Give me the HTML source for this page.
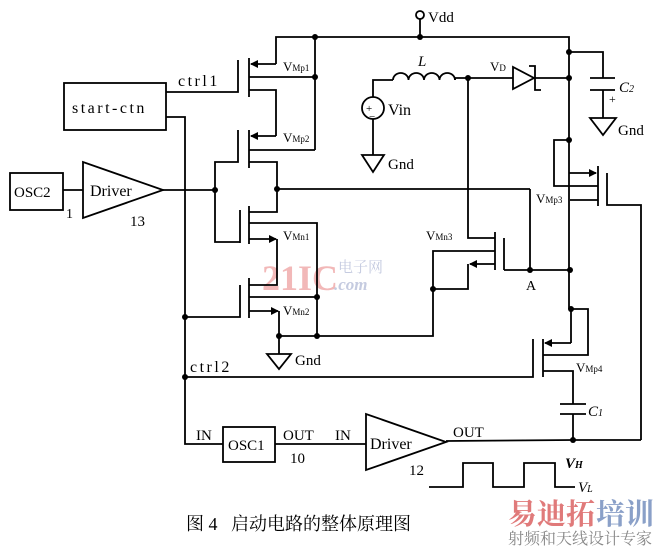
<!DOCTYPE html>
<html><head><meta charset="utf-8"><style>
html,body{margin:0;padding:0;background:#fff;}
svg{display:block;}
text{font-family:"Liberation Serif","Noto Serif CJK SC",serif;fill:#000;}
.m{font-family:"Liberation Serif",serif;letter-spacing:2.5px;}
</style></head><body>
<svg width="662" height="548" viewBox="0 0 662 548" xmlns="http://www.w3.org/2000/svg">
<defs>
<marker id="ar" markerWidth="8" markerHeight="8" refX="7" refY="4" orient="auto" markerUnits="userSpaceOnUse"><path d="M0,0 L8,4 L0,8 Z" fill="#000"/></marker>
</defs>
<text x="262" y="290" font-family="Liberation Sans,sans-serif" font-weight="bold" font-size="36" style="fill:#f2b8b8">21IC</text>
<text x="338" y="272" font-family="Noto Sans CJK SC,sans-serif" font-size="15" style="fill:#c5cbe0">电子网</text>
<text x="334" y="290" font-family="Liberation Sans,sans-serif" font-style="italic" font-weight="bold" font-size="17" style="fill:#c5cbe0">.com</text>

<g stroke="#000" stroke-width="1.8" fill="none">
<rect x="10" y="173" width="53" height="37"/>
<line x1="63" y1="190" x2="83" y2="190"/>
<polygon points="83,162 83,218 163,190"/>
<line x1="163" y1="190" x2="215" y2="190"/>
<rect x="64" y="83" width="102" height="47"/>
<polyline points="166,92 238,92 238,60"/>
<polyline points="166,117 185,117 185,444 223,444"/>
<circle cx="420" cy="15" r="4"/>
<line x1="420" y1="19" x2="420" y2="37"/>
<polyline points="276,64 276,37 569,37 569,140"/>
<line x1="249" y1="58" x2="249" y2="97"/>
<line x1="276" y1="64" x2="251" y2="64" marker-end="url(#ar)"/>
<line x1="249" y1="77" x2="315" y2="77"/>
<line x1="315" y1="37" x2="315" y2="150"/>
<polyline points="249,90 276,90 276,136"/>
<line x1="249" y1="130" x2="249" y2="168"/>
<line x1="276" y1="136" x2="251" y2="136" marker-end="url(#ar)"/>
<line x1="249" y1="150" x2="315" y2="150"/>
<polyline points="238,130 238,162 215,162 215,242 240,242"/>
<polyline points="249,162 277,162 277,212 249,212"/>
<line x1="277" y1="189" x2="530" y2="189"/>
<line x1="530" y1="189" x2="530" y2="270"/>
<line x1="249" y1="206" x2="249" y2="244"/>
<line x1="240" y1="210" x2="240" y2="243"/>
<polyline points="249,223 317,223 317,336"/>
<line x1="249" y1="239" x2="276" y2="239" marker-end="url(#ar)"/>
<polyline points="277,239 277,285 249,285"/>
<line x1="249" y1="278" x2="249" y2="318"/>
<polyline points="240,285 240,317 185,317"/>
<line x1="249" y1="297" x2="317" y2="297"/>
<line x1="249" y1="311" x2="278" y2="311" marker-end="url(#ar)"/>
<polyline points="279,311 279,354"/>
<polygon points="267,354 291,354 279,369"/>
<polyline points="279,336 433,336 433,251 495,251"/>
<line x1="495" y1="232" x2="495" y2="270"/>
<line x1="504" y1="238" x2="504" y2="270"/>
<polyline points="468,78 468,238 495,238"/>
<line x1="495" y1="264" x2="470" y2="264" marker-end="url(#ar)"/>
<polyline points="468,264 468,289 433,289"/>
<line x1="504" y1="270" x2="570" y2="270"/>
<circle cx="373" cy="108" r="11"/>
<polyline points="373,97 373,80 393,80"/>
<path d="M393,80 a7.75,7 0 0 1 15.5,0 a7.75,7 0 0 1 15.5,0 a7.75,7 0 0 1 15.5,0 a7.75,7 0 0 1 15.5,0"/>
<line x1="455" y1="80" x2="455" y2="78"/>
<line x1="455" y1="78" x2="513" y2="78"/>
<polygon points="513,67 513,89 534,78"/>
<polyline points="529,66 535,66 535,90 541,90"/>
<line x1="535" y1="78" x2="569" y2="78"/>
<line x1="373" y1="119" x2="373" y2="155"/>
<polygon points="362,155 384,155 373,172"/>
<polyline points="569,52 603,52 603,78"/>
<line x1="590" y1="78" x2="615" y2="78"/>
<line x1="590" y1="90" x2="615" y2="90"/>
<line x1="603" y1="90" x2="603" y2="118"/>
<polygon points="590,118 616,118 603,135"/>
<line x1="569" y1="140" x2="569" y2="309"/>
<polyline points="569,140 554,140 554,186 598,186"/>
<line x1="569" y1="173" x2="596" y2="173" marker-end="url(#ar)"/>
<line x1="598" y1="166" x2="598" y2="206"/>
<polyline points="607,173 607,205 641,205 641,440"/>
<line x1="598" y1="200" x2="570" y2="200"/>
<polyline points="571,309 588,309 588,355 543,355"/>
<line x1="571" y1="309" x2="571" y2="343"/>
<line x1="571" y1="343" x2="545" y2="343" marker-end="url(#ar)"/>
<line x1="543" y1="339" x2="543" y2="377"/>
<polyline points="185,377 533,377 533,339"/>
<polyline points="543,371 573,371 573,404"/>
<line x1="560" y1="404" x2="586" y2="404"/>
<line x1="560" y1="414" x2="586" y2="414"/>
<line x1="573" y1="414" x2="573" y2="440"/>
<rect x="223" y="427" width="52" height="35"/>
<line x1="275" y1="444" x2="366" y2="444"/>
<polygon points="366,414 366,470 446,442"/>
<polyline points="446,441 573,440 641,440"/>
<polyline points="429,487 463,487 463,463 493,463 493,487 524,487 524,463 555,463 555,487 575,487"/>
</g>
<g fill="#000">
<circle cx="420" cy="37" r="3"/><circle cx="315" cy="37" r="3"/><circle cx="315" cy="77" r="3"/>
<circle cx="215" cy="190" r="3"/><circle cx="277" cy="189" r="3"/><circle cx="317" cy="297" r="3"/>
<circle cx="317" cy="336" r="3"/><circle cx="279" cy="336" r="3"/><circle cx="433" cy="289" r="3"/>
<circle cx="530" cy="270" r="3"/><circle cx="570" cy="270" r="3"/><circle cx="468" cy="78" r="3"/>
<circle cx="569" cy="78" r="3"/><circle cx="569" cy="52" r="3"/><circle cx="569" cy="140" r="3"/>
<circle cx="571" cy="309" r="3"/><circle cx="573" cy="440" r="3"/><circle cx="185" cy="317" r="3"/>
<circle cx="185" cy="377" r="3"/>
</g>
<g font-size="15">
<text x="14" y="197" font-size="15">OSC2</text>
<text x="66" y="218" font-size="14">1</text>
<text x="90" y="196" font-size="16">Driver</text>
<text x="130" y="226" font-size="15">13</text>
<text class="m" x="72" y="113" font-size="16">start-ctn</text>
<text class="m" x="178" y="86" font-size="16">ctrl1</text>
<text class="m" x="190" y="372" font-size="16">ctrl2</text>
<text x="428" y="22" font-size="15">Vdd</text>
<text x="418" y="66" font-size="15" font-style="italic">L</text>
<text x="490" y="71" font-size="13">V<tspan font-size="9">D</tspan></text>
<text x="366" y="112" font-size="11">+</text>
<text x="369" y="120" font-size="11">−</text>
<text x="388" y="115" font-size="16">Vin</text>
<text x="388" y="169" font-size="15">Gnd</text>
<text x="619" y="92" font-size="15" font-style="italic">C<tspan font-size="10">2</tspan></text>
<text x="609" y="103" font-size="12">+</text>
<text x="618" y="135" font-size="15">Gnd</text>
<text x="283" y="71" font-size="13">V<tspan font-size="9">Mp1</tspan></text>
<text x="283" y="142" font-size="13">V<tspan font-size="9">Mp2</tspan></text>
<text x="283" y="240" font-size="13">V<tspan font-size="9">Mn1</tspan></text>
<text x="283" y="315" font-size="13">V<tspan font-size="9">Mn2</tspan></text>
<text x="426" y="240" font-size="13">V<tspan font-size="9">Mn3</tspan></text>
<text x="536" y="203" font-size="13">V<tspan font-size="9">Mp3</tspan></text>
<text x="576" y="372" font-size="13">V<tspan font-size="9">Mp4</tspan></text>
<text x="526" y="290" font-size="14">A</text>
<text x="295" y="365" font-size="15">Gnd</text>
<text x="588" y="416" font-size="15" font-style="italic">C<tspan font-size="10">1</tspan></text>
<text x="196" y="440" font-size="15">IN</text>
<text x="228" y="450" font-size="15">OSC1</text>
<text x="283" y="440" font-size="15">OUT</text>
<text x="290" y="463" font-size="15">10</text>
<text x="335" y="440" font-size="15">IN</text>
<text x="370" y="449" font-size="16">Driver</text>
<text x="409" y="475" font-size="15">12</text>
<text x="453" y="437" font-size="15">OUT</text>
<text x="565" y="468" font-size="15" font-style="italic" font-weight="bold">V<tspan font-size="10">H</tspan></text>
<text x="578" y="492" font-size="15" font-style="italic">V<tspan font-size="10">L</tspan></text>
</g>
<text x="186" y="530" font-size="18">图 4 &#160; 启动电路的整体原理图</text>
<text x="508" y="524" font-size="29" font-weight="bold" font-family="Noto Sans CJK SC,sans-serif" style="fill:#e07a7a">易迪拓</text>
<text x="596" y="524" font-size="29" font-weight="bold" font-family="Noto Sans CJK SC,sans-serif" style="fill:#8aa0c8">培训</text>
<text x="508" y="544" font-size="16" font-family="Noto Serif CJK SC,serif" style="fill:#888">射频和天线设计专家</text>
</svg>
</body></html>
